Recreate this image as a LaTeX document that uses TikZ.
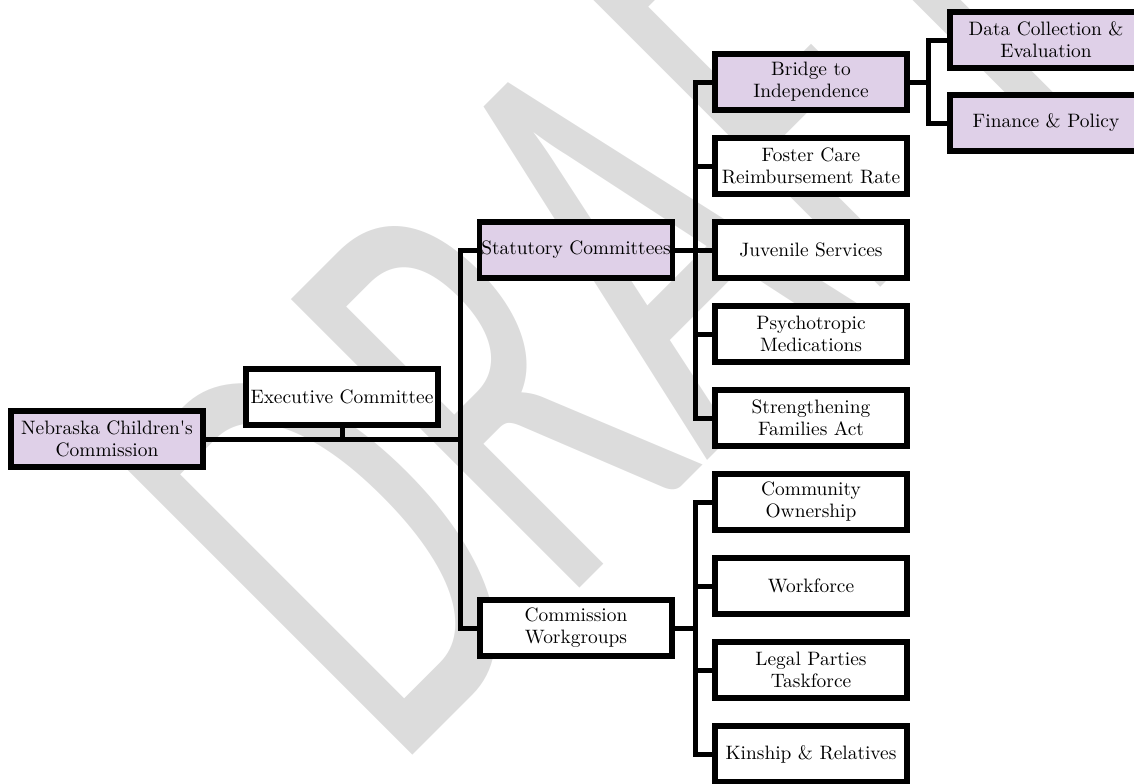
\documentclass[tikz,border=0pt]{standalone}
\usepackage{fontspec}
\newfontfamily\draftfont{Carlito}

\definecolor{ncpurple}{HTML}{DFD0E8}
\definecolor{draftgrey}{HTML}{DCDCDC}

\begin{document}
\begin{tikzpicture}[x=0.5pt, y=-0.5pt]
  \tikzstyle{box} = [rectangle, draw=black, fill=white, line width=2.8pt,
  minimum width=96pt, minimum height=28pt, inner sep=1pt, align=center,
  font=\fontsize{9.7pt}{11pt}\selectfont];
  \tikzstyle{hl} = [fill=ncpurple];
  \tikzstyle{a} = [line width=2.5pt];
  \tikzstyle{wm} = [rotate=45, xscale=0.6, anchor=base west, inner sep=0pt,
  text=draftgrey, font=\draftfont\fontsize{318pt}{318pt}\selectfont];

  \useasboundingbox (0,0) rectangle (1134,783);
  \begin{scope}
    \clip (0,0) rectangle (1134,783);
    \node[wm] (draft) at (394,774) {DRAFT};
  \end{scope}

  \node[box,hl] (ncc) at (107,439) {Nebraska Children\textquotesingle s\\Commission};
  \node[box] (exec) at (342,397) {Executive Committee};

  \node[box,hl] (stat) at (576,250) {Statutory Committees};
  \node[box] (work) at (576,628) {Commission\\Workgroups};

  \node[box,hl] (bridge) at (811,82) {Bridge to\\Independence};
  \node[box] (foster) at (811,166) {Foster Care\\Reimbursement Rate};
  \node[box] (juv) at (811,250) {Juvenile Services};
  \node[box] (psy) at (811,334) {Psychotropic\\Medications};
  \node[box] (sfa) at (811,418) {Strengthening\\Families Act};

  \node[box] (own) at (811,502) {Community\\Ownership};
  \node[box] (force) at (811,586) {Workforce};
  \node[box] (legal) at (811,670) {Legal Parties\\Taskforce};
  \node[box] (kin) at (811,754) {Kinship \& Relatives};

  \node[box,hl] (data) at (1046,40) {Data Collection \&\\Evaluation};
  \node[box,hl] (fin) at (1046,123) {Finance \& Policy};

  \coordinate (j1) at (460,439);
  \coordinate (j2) at (695,250);
  \coordinate (j3) at (695,628);
  \coordinate (j4) at (928,82);

  \draw[a] (ncc) to (j1);
  \draw[a] (exec) to (exec |- j1);
  \draw[a] (j1) |- (stat);
  \draw[a] (j1) |- (work);

  \draw[a] (stat) to (juv);
  \draw[a] (j2) |- (bridge);
  \draw[a] (j2) |- (foster);
  \draw[a] (j2) |- (psy);
  \draw[a] (j2) |- (sfa);

  \draw[a] (work) to (j3);
  \draw[a] (j3) |- (own);
  \draw[a] (j3) |- (force);
  \draw[a] (j3) |- (legal);
  \draw[a] (j3) |- (kin);

  \draw[a] (bridge) to (j4);
  \draw[a] (j4) |- (data);
  \draw[a] (j4) |- (fin);
\end{tikzpicture}
\end{document}
